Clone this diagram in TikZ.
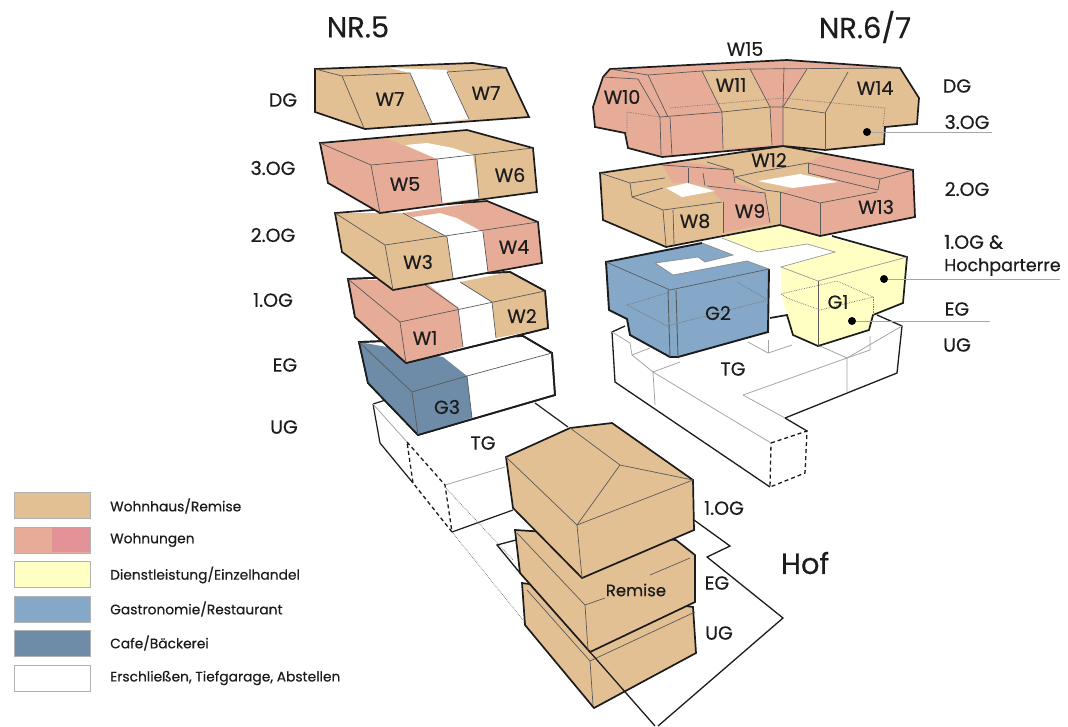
\documentclass[tikz,border=0pt]{standalone}
\usepackage{fontspec}
\setmainfont{Poppins}
\newfontfamily\lbf{Poppins}[FakeBold=0.35]
\definecolor{ctan}{HTML}{E3BF94}
\definecolor{cpink}{HTML}{E7AC98}
\definecolor{cpinkb}{HTML}{E39398}
\definecolor{cyel}{HTML}{FFFFC4}
\definecolor{cblue}{HTML}{85A8C8}
\definecolor{cdark}{HTML}{6E8CA8}
\definecolor{ink}{HTML}{1C1C1C}
\definecolor{lin}{HTML}{5A5A5A}
\tikzset{
 boldl/.style={draw=ink,line width=1.7pt,line join=miter},
 thinl/.style={draw=lin,line width=0.7pt},
 pale/.style={draw=black!35,line width=0.8pt},
 dott/.style={draw=black!55,line width=0.7pt,densely dotted},
 dashl/.style={draw=ink,line width=1.3pt,dash pattern=on 4pt off 3pt},
 lab/.style={text=ink,font=\lbf\fontsize{19}{22}\selectfont,inner sep=0pt},
 tit/.style={text=ink,font=\lbf\fontsize{29}{33}\selectfont,inner sep=0pt},
 legt/.style={text=ink,font=\lbf\fontsize{13.8}{16}\selectfont,inner sep=0pt,anchor=west},
 dotn/.style={circle,fill=black,inner sep=0pt,minimum size=8pt},
 swatch/.style={draw=black!30,line width=1.2pt,minimum width=76pt,minimum height=26pt,inner sep=0pt,anchor=north west},
}
\begin{document}
\begin{tikzpicture}[x=1pt,y=-1pt]
\path[use as bounding box,fill=white] (0,0) rectangle (1068,726);

% ---------- NR.5 TG
\path[fill=white] (373,404)--(535,403)--(568,427)--(513,510)--(452,532)--(380,443)--cycle;
\draw[boldl,line width=1.2pt] (373,404)--(380,443)--(413,483);
\draw[boldl,line width=1.2pt] (373,404)--(392,398);
\draw[boldl,line width=1.2pt] (535,403)--(568,427);
\draw[boldl,line width=1.2pt] (452,532)--(513,510);
\draw[pale] (373,404)--(407,442);
\draw[pale] (445,485)--(505,467);
\draw[dashl] (407,442)--(445,485)--(452,532)--(413,483)--(407,442);
\draw[dott] (452,532)--(523,620);
\draw[dott] (445,487)--(513,560);

% ---------- NR.5 EG
\path[boldl,fill=white] (359,342)--(523,336)--(552,353)--(555,395)--(418,435)--(368,383)--cycle;
\path[fill=cdark] (359,342)--(443,357)--(467,376)--(472,418)--(418,435)--(368,383)--cycle;
\path[boldl] (359,342)--(523,336)--(552,353)--(555,395)--(418,435)--(368,383)--cycle;
\draw[thinl] (359,342)--(412,392)--(467,376)--(552,353);
\draw[thinl] (412,392)--(418,435);
\draw[thinl] (467,376)--(472,418);

% ---------- NR.5 1.OG
\path[boldl,fill=white] (348,279)--(510,272)--(545,291)--(548,328)--(406,363)--(355,317)--cycle;
\path[fill=cpink] (348,279)--(425,282)--(458,308)--(463,347)--(406,363)--(355,317)--cycle;
\path[fill=ctan] (460,282)--(510,272)--(545,291)--(548,328)--(496,338)--(492,302)--cycle;
\path[boldl] (348,279)--(510,272)--(545,291)--(548,328)--(406,363)--(355,317)--cycle;
\draw[thinl] (348,279)--(400,322)--(545,291);
\draw[thinl] (400,322)--(406,363);
\draw[thinl] (458,308)--(463,347);
\draw[thinl] (492,302)--(496,338);
\draw[thinl] (460,282)--(492,302);
\draw[thinl] (425,285)--(458,308);

% ---------- NR.5 2.OG
\path[fill=white] (335,213)--(487,201)--(538,222)--(542,263)--(393,290)--(342,252)--cycle;
\path[fill=ctan] (335,213)--(403,213)--(447,237)--(453,278)--(393,290)--(342,252)--cycle;
\path[fill=cpink] (403,213)--(487,201)--(538,222)--(542,263)--(488,272)--(483,232)--(457,218)--(440,213)--(413,217)--cycle;
\path[boldl] (335,213)--(487,201)--(538,222)--(542,263)--(393,290)--(342,252)--cycle;
\draw[thinl] (335,213)--(385,245)--(538,222);
\draw[thinl] (385,245)--(393,290);
\draw[thinl] (403,213)--(447,237)--(453,278);
\draw[thinl] (483,232)--(488,272);

% ---------- NR.5 3.OG
\path[fill=ctan] (320,143)--(467,130)--(533,148)--(537,192)--(380,213)--(328,183)--cycle;
\path[fill=cpink] (320,143)--(385,138)--(437,159)--(442,203)--(380,213)--(328,183)--cycle;
\path[fill=white] (405,145)--(427,143)--(453,148)--(473,155)--(479,198)--(442,203)--(437,159)--cycle;
\path[boldl] (320,143)--(467,130)--(533,148)--(537,192)--(380,213)--(328,183)--cycle;
\draw[thinl] (320,143)--(371,165)--(437,159);
\draw[thinl] (371,165)--(380,213);
\draw[thinl] (437,159)--(533,148);
\draw[thinl] (437,159)--(442,203);
\draw[thinl] (475,155)--(479,198);

% ---------- NR.5 DG
\path[fill=ctan] (315,69)--(473,63)--(506,68)--(529,117)--(365,129)--(315,112)--cycle;
\path[fill=white] (390,68)--(447,70)--(469,119)--(432,123)--(410,73)--cycle;
\path[boldl] (315,69)--(473,63)--(506,68)--(529,117)--(365,129)--(315,112)--cycle;
\draw[thinl] (315,69)--(342,76)--(364,128);
\draw[thinl] (342,76)--(410,73)--(432,123);
\draw[thinl] (447,72)--(469,119);
\draw[thinl] (447,72)--(506,68);

% ---------- NR.6/7 TG
\path[fill=white] (612,332)--(800,290)--(877,315)--(902,326)--(897,373)--(785,418)--(807,431)--(805,473)--(770,487)--(615,382)--cycle;
\draw[boldl,line width=1.3pt] (625,326)--(612,332)--(615,382)--(770,487);
\draw[boldl,line width=1.3pt] (877,315)--(902,326)--(897,373)--(785,418);
\draw[boldl,line width=1.3pt] (785,418)--(807,431);
\draw[dashl] (771,443)--(807,431)--(805,473)--(770,487)--cycle;
\draw[pale] (771,443)--(653,372)--(655,405);
\draw[pale] (653,372)--(680,362);
\draw[pale] (612,332)--(630,343)--(632,355)--(653,372);
\draw[pale] (632,355)--(650,348);
\draw[pale] (743,395)--(785,418);
\draw[pale] (743,395)--(847,358)--(847,392);
\draw[pale] (847,358)--(902,326);
\draw[pale] (847,358)--(820,346);
\draw[pale] (870,336)--(870,350)--(847,358);
\draw[pale] (748,342)--(768,353)--(792,345);
\draw[pale] (768,340)--(768,353);

% ---------- G1 yellow
\path[fill=cyel] (722,238)--(780,225)--(907,257)--(903,303)--(873,315)--(869,330)--(818,346)--(793,335)--(787,315)--(781,294)--(781,267)--(835,252)--(807,244)--(758,252)--cycle;
\path[fill=white] (700,243)--(722,238)--(758,252)--(807,244)--(835,252)--(781,267)--(781,294)--(787,315)--(770,318)--(769,269)--cycle;
\draw[boldl] (832,236)--(907,257)--(903,303)--(873,315)--(869,330)--(818,346)--(793,335)--(787,315)--(770,318);
\draw[thinl,draw=black!40] (722,238)--(758,252)--(807,244)--(835,252)--(781,267)--(818,281)--(907,257);
\draw[thinl] (818,281)--(818,346);
\draw[dott] (781,294)--(837,281)--(873,297)--(820,310)--(787,298)--(781,294);
\draw[dott] (873,297)--(873,315);

% ---------- G2 blue
\path[fill=cblue] (606,262)--(702,243)--(733,255)--(705,262)--(698,257)--(655,263)--(673,275)--(747,261)--(769,269)--(768,332)--(678,357)--(670,357)--(630,335)--(627,319)--(609,310)--cycle;
\draw[boldl,line width=1.9pt] (702,243)--(606,262)--(609,310)--(627,319)--(630,335)--(670,357)--(678,357)--(768,332)--(769,269);
\draw[thinl] (606,262)--(670,290)--(769,269);
\draw[thinl,line width=0.9pt] (668,290)--(670,357);
\draw[thinl,line width=0.9pt] (676,290)--(678,357);
\draw[thinl,draw=black!45] (702,243)--(733,255)--(705,262)--(698,257)--(655,263)--(673,275)--(747,261)--(769,269);
\draw[dott] (627,305)--(667,326)--(768,300)--(737,282);
\draw[dott] (627,305)--(670,292);

% ---------- NR.6/7 2.OG
\path[fill=ctan] (600,173)--(783,146)--(913,170)--(915,217)--(820,236)--(780,225)--(666,247)--(603,220)--cycle;
\path[fill=cpink] (808,163)--(825,154)--(913,170)--(915,217)--(820,236)--(780,225)--(780,192)--(793,188)--(837,182)--(808,173)--cycle;
\path[fill=cpink] (707,186)--(735,183)--(765,193)--(770,223)--(723,233)--(723,202)--cycle;
\path[fill=cpink] (662,165)--(688,162)--(733,170)--(735,183)--(705,186)--(687,183)--(673,183)--cycle;
\path[fill=white] (666,188)--(687,183)--(715,191)--(682,197)--cycle;
\path[fill=white] (758,181)--(800,174)--(838,182)--(793,188)--cycle;
\path[boldl] (600,173)--(783,146)--(913,170)--(915,217)--(820,236)--(780,225)--(666,247)--(603,220)--cycle;
\draw[thinl] (600,173)--(630,183)--(665,178);
\draw[thinl] (630,183)--(632,197)--(663,188);
\draw[thinl] (632,197)--(663,210)--(722,202);
\draw[thinl] (663,210)--(666,246);
\draw[thinl] (673,210)--(674,244);
\draw[thinl] (723,202)--(723,233);
\draw[thinl] (707,186)--(765,193)--(770,223);
\draw[thinl] (780,192)--(780,225);
\draw[thinl] (780,192)--(820,203)--(877,192);
\draw[thinl] (820,203)--(820,235);
\draw[thinl] (808,163)--(880,179)--(878,190);
\draw[thinl] (880,179)--(913,170);
\draw[thinl] (808,163)--(808,173);
\draw[thinl] (808,173)--(878,190);
\draw[thinl] (688,168)--(688,183);
\draw[thinl] (703,173)--(705,186);
\draw[thinl] (662,165)--(733,170)--(735,183);
\draw[thinl] (735,177)--(765,190)--(780,192);
\draw[thinl] (735,177)--(758,172)--(808,163);
\draw[thinl] (707,162)--(733,170);

% ---------- NR.6/7 roof
\path[fill=cpink] (610,69)--(787,60)--(900,68)--(919,98)--(917,124)--(885,127)--(884,144)--(825,150)--(783,146)--(662,157)--(628,148)--(625,133)--(595,127)--(593,107)--(603,77)--cycle;
\path[fill=ctan] (702,71)--(750,69)--(770,107)--(772,145)--(723,149)--(722,112)--cycle;
\path[fill=ctan] (807,69)--(900,68)--(919,98)--(917,124)--(885,127)--(884,144)--(825,150)--(783,146)--(783,107)--cycle;
\path[boldl] (610,69)--(787,60)--(900,68)--(919,98)--(917,124)--(885,127)--(884,144)--(825,150)--(783,146)--(662,157)--(628,148)--(625,133)--(595,127)--(593,107)--(603,77)--cycle;
\draw[thinl] (603,77)--(638,79)--(660,117)--(661,155);
\draw[thinl] (610,69)--(648,75)--(668,117);
\draw[thinl] (670,117)--(672,156);
\draw[thinl] (660,117)--(722,112)--(770,107)--(783,107)--(825,113)--(848,72);
\draw[thinl] (825,113)--(825,150);
\draw[thinl] (648,75)--(702,71)--(750,69)--(770,107)--(772,145);
\draw[thinl] (702,71)--(722,112)--(723,149);
\draw[thinl] (807,69)--(783,107)--(783,146);
\draw[thinl] (784,67)--(783,107);
\draw[thinl] (750,69)--(900,68);
\draw[dott] (627,133)--(627,112)--(660,117);
\draw[dott] (670,108)--(783,98)--(885,108)--(883,127);

% ---------- Hof outline
\draw[boldl,line width=1.3pt] (520,573)--(497,545)--(516,540);
\draw[boldl,line width=1.3pt] (694,520)--(730,546)--(707,557)--(783,618)--(658,726);

% ---------- Remise
\path[boldl,fill=ctan] (522,583)--(693,607)--(696,653)--(594,708)--(525,625)--cycle;
\draw[thinl] (527,590)--(590,661)--(695,612);
\draw[thinl] (590,661)--(593,705);
\path[boldl,fill=ctan] (515,530)--(676,540)--(695,555)--(695,602)--(590,652)--(520,573)--cycle;
\draw[thinl] (517,533)--(585,605)--(605,598);
\draw[thinl] (650,575)--(690,558);
\draw[thinl] (585,605)--(588,650);
\draw[boldl,line width=1.3pt] (590,652)--(655,726);
\path[boldl,fill=ctan] (506,457)--(570,428)--(612,423)--(693,480)--(694,530)--(582,578)--(513,508)--cycle;
\draw[thinl] (506,457)--(577,525)--(693,480);
\draw[thinl] (577,525)--(582,578);
\draw[thinl] (577,525)--(620,465)--(693,480);
\draw[thinl] (570,428)--(620,465);

% ---------- Labels
\node[tit] (nr5) at (358,27) {NR.5};
\node[tit] (nr67) at (865,27) {NR.6/7};
\node[lab] (ldg) at (283,100) {DG};
\node[lab] (l3og) at (273,168) {3.OG};
\node[lab] (l2og) at (273,235) {2.OG};
\node[lab] (l1og) at (273,300) {1.OG};
\node[lab] (leg) at (285,365) {EG};
\node[lab] (lug) at (284,427) {UG};
\node[lab] (rdg) at (957,86) {DG};
\node[lab] (r3og) at (967,122) {3.OG};
\node[lab] (r2og) at (967,189) {2.OG};
\node[lab,anchor=west] (r1og) at (944,242) {1.OG \&};
\node[lab,anchor=west,font=\lbf\fontsize{17.5}{20}\selectfont] (rhp) at (944,267) {Hochparterre};
\node[lab] (reg) at (957,309) {EG};
\node[lab] (rug) at (957,345) {UG};
\node[lab] (tgr) at (733,369) {TG};
\node[lab] (tgl) at (483,443) {TG};
\node[lab] (g1) at (838,302) {G1};
\node[lab] (g2) at (718,313) {G2};
\node[lab] (g3) at (447,407) {G3};
\node[lab] (w7a) at (390,99) {W7};
\node[lab] (w7b) at (486,93) {W7};
\node[lab] (w5) at (405,184) {W5};
\node[lab] (w6) at (510,175) {W6};
\node[lab] (w3) at (418,262) {W3};
\node[lab] (w4) at (514,247) {W4};
\node[lab] (w1) at (425,338) {W1};
\node[lab] (w2) at (522,316) {W2};
\node[lab] (w15) at (745,49) {W15};
\node[lab] (w10) at (622,97) {W10};
\node[lab] (w11) at (731,85) {W11};
\node[lab] (w14) at (875,88) {W14};
\node[lab] (w12) at (769,160) {W12};
\node[lab] (w8) at (695,221) {W8};
\node[lab] (w9) at (750,211) {W9};
\node[lab] (w13) at (876,207) {W13};
\node[lab,font=\lbf\fontsize{16.5}{20}\selectfont] (rem) at (636,590) {Remise};
\node[lab] (r1) at (724,508) {1.OG};
\node[lab] (r2) at (717,583) {EG};
\node[lab] (r3) at (719,633) {UG};
\node[tit] (hof) at (805,563) {Hof};

% ---------- Leader dots
\node[dotn] (d3og) at (867,132) {};
\node[dotn] (dhp) at (884,279) {};
\node[dotn] (deg) at (852,321) {};
\coordinate (e3og) at (992,132);
\coordinate (ehp) at (1060,279);
\coordinate (eeg) at (990,321);
\draw[pale,line width=1pt] (d3og)--(e3og);
\draw[pale,line width=1pt] (dhp)--(ehp);
\draw[pale,line width=1pt] (deg)--(eeg);

% ---------- Legend
\node[swatch,fill=ctan] (s1) at (14,492) {};
\node[swatch,fill=cpink] (s2) at (14,526.5) {};
\path[fill=cpinkb] (52,527)--(89.5,527)--(89.5,552)--(52,552)--cycle;
\node[swatch,fill=cyel] (s3) at (14,561) {};
\node[swatch,fill=cblue] (s4) at (14,595.5) {};
\node[swatch,fill=cdark] (s5) at (14,630) {};
\node[swatch,fill=white] (s6) at (14,665) {};
\node[legt] (t1) at (110,506) {Wohnhaus/Remise};
\node[legt] (t2) at (110,540) {Wohnungen};
\node[legt] (t3) at (110,575) {Dienstleistung/Einzelhandel};
\node[legt] (t4) at (110,609) {Gastronomie/Restaurant};
\node[legt] (t5) at (110,643) {Cafe/Bäckerei};
\node[legt] (t6) at (110,678) {Erschließen, Tiefgarage, Abstellen};
\end{tikzpicture}
\end{document}
